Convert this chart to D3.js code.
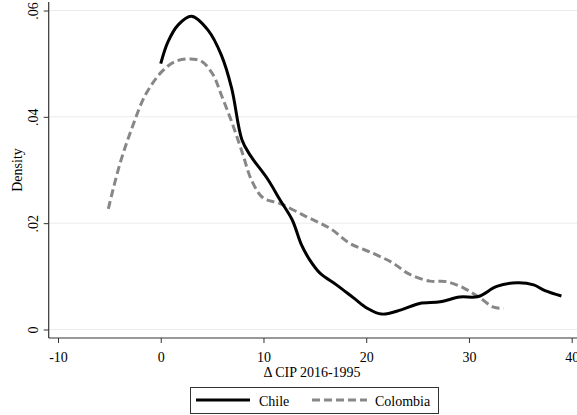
<!DOCTYPE html>
<html><head><meta charset="utf-8">
<script src="https://cdn.jsdelivr.net/npm/d3@7"></script>
<style>body{margin:0;background:#fff}svg{display:block}</style>
</head><body><svg id="c" width="577" height="415"></svg>
<script>
const chileX = [0, 0.7, 1.7, 3.0, 4.6, 5.9, 6.9, 7.9, 8.7, 10.4, 11.6, 12.8, 13.7, 14.5, 15.5, 17.1, 18.8, 20.1, 21.5, 23.4, 25.2, 27.2, 29.1, 30.9, 32.7, 34.7, 36.3, 37.4, 39.0];
const chileY = [.050, .0541, .0573, .0589, .0563, .0516, .0454, .0357, .0328, .0283, .0244, .0206, .0159, .0131, .0106, .0084, .0059, .0040, .0029, .0037, .0049, .0052, .0061, .0062, .0081, .0088, .0084, .0073, .0063];
const colX = [-5.1, -4.0, -2.8, -1.5, 0.1, 1.4, 2.85, 4.0, 5.1, 5.9, 6.9, 7.9, 8.9, 10.0, 11.6, 14.2, 16.5, 18.4, 20.7, 22.6, 24.2, 26.2, 27.8, 29.5, 31.1, 32.4, 33.4];
const colY = [.0227, .0310, .0379, .0441, .0485, .0504, .0509, .0504, .0479, .0441, .0391, .0335, .0278, .0247, .0237, .0212, .0190, .0162, .0143, .0125, .0104, .0091, .0090, .0078, .0059, .0042, .0040];
const xTicks = [-10, 0, 10, 20, 30, 40];
const yTicks = [0, .02, .04, .06];
const yTickLabels = ["0", ".02", ".04", ".06"];
const seriesNames = ["Chile", "Colombia"];

const FONT = '"Liberation Serif", "Times New Roman", Times, serif';
const svg = d3.select("#c");
const x = d3.scaleLinear().domain([-10, 40]).range([58, 571.7]);
const y = d3.scaleLinear().domain([0, 0.06]).range([329.5, 10.5]);
const axX = 48.7, axY = 338;

// gridlines
svg.append("g").selectAll("line").data(yTicks).join("line")
  .attr("x1", axX).attr("x2", 577).attr("y1", d => y(d)).attr("y2", d => y(d))
  .attr("stroke", "#ebebeb").attr("stroke-width", 1);

// y axis
const ya = svg.append("g").attr("transform", `translate(${axX},0)`)
  .call(d3.axisLeft(y).tickValues(yTicks).tickFormat((d, i) => yTickLabels[i]).tickSize(5).tickSizeOuter(0));
ya.select(".domain").remove();
ya.selectAll(".tick line").attr("stroke", "#333");
ya.selectAll(".tick text").style("font-size", "14px").style("font-family", FONT).attr("fill", "#000")
  .attr("transform", "rotate(-90)").attr("x", 0).attr("y", -10.7).attr("dy", 0).attr("text-anchor", "middle");
svg.append("line").attr("x1", axX).attr("x2", axX).attr("y1", 2).attr("y2", axY).attr("stroke", "#333").attr("stroke-width", 1.2);

// x axis
const xa = svg.append("g").attr("transform", `translate(0,${axY})`)
  .call(d3.axisBottom(x).tickValues(xTicks).tickFormat(d => String(d)).tickSize(5).tickSizeOuter(0));
xa.select(".domain").remove();
xa.selectAll(".tick line").attr("stroke", "#333");
xa.selectAll(".tick text").style("font-size", "14px").style("font-family", FONT).attr("fill", "#000").attr("y", 23.5).attr("dy", 0);
svg.append("line").attr("x1", axX).attr("x2", 577).attr("y1", axY).attr("y2", axY).attr("stroke", "#333").attr("stroke-width", 1.2);

// labels
svg.append("text").attr("x", 312).attr("y", 377).attr("text-anchor", "middle").style("font-family", FONT).style("font-size", "14px").text("Δ CIP 2016-1995");
svg.append("text").attr("transform", "translate(22,170) rotate(-90)").attr("text-anchor", "middle").style("font-family", FONT).style("font-size", "14px").text("Density");

// lines
const line = d3.line().x(d => x(d[0])).y(d => y(d[1])).curve(d3.curveCatmullRom.alpha(0.5));
const chile = chileX.map((v, i) => [v, chileY[i]]);
const col = colX.map((v, i) => [v, colY[i]]);
svg.append("path").attr("d", line(col)).attr("fill", "none").attr("stroke", "#878787").attr("stroke-width", 3).attr("stroke-dasharray", "8,4");
svg.append("path").attr("d", line(chile)).attr("fill", "none").attr("stroke", "#000").attr("stroke-width", 3);

// legend
const lg = svg.append("g");
lg.append("rect").attr("x", 190.5).attr("y", 387.5).attr("width", 248).attr("height", 26).attr("fill", "#fff").attr("stroke", "#333").attr("stroke-width", 1);
lg.append("line").attr("x1", 196).attr("x2", 250).attr("y1", 400).attr("y2", 400).attr("stroke", "#000").attr("stroke-width", 3);
lg.append("text").attr("x", 259).attr("y", 406).style("font-family", FONT).style("font-size", "14px").text(seriesNames[0]);
lg.append("line").attr("x1", 312).attr("x2", 367).attr("y1", 400).attr("y2", 400).attr("stroke", "#878787").attr("stroke-width", 3).attr("stroke-dasharray", "8,4");
lg.append("text").attr("x", 375).attr("y", 406).style("font-family", FONT).style("font-size", "14px").text(seriesNames[1]);
</script></body></html>
